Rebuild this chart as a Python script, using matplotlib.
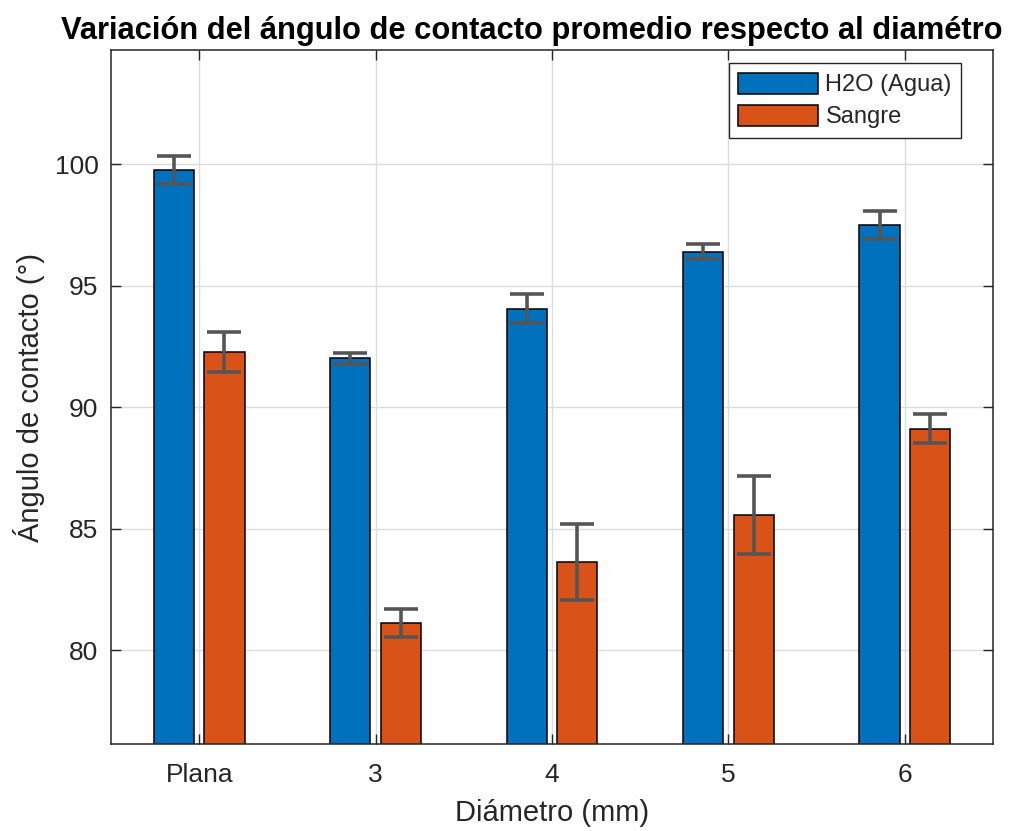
import numpy as np
import matplotlib
matplotlib.use('Agg')
import matplotlib.pyplot as plt

plt.rcParams['font.family'] = ['Liberation Sans', 'DejaVu Sans']

# datos
categorias = ['Plana', '3', '4', '5', '6']
agua = [99.76, 92.01, 94.05, 96.40, 97.49]
agua_err = [0.59, 0.22, 0.59, 0.30, 0.57]
sangre = [92.27, 81.11, 83.62, 85.56, 89.12]
sangre_err = [0.82, 0.57, 1.57, 1.60, 0.60]

AZUL = '#0072BD'
NARANJA = '#D95319'
GRIS = '#262626'

fig = plt.figure(figsize=(10.11, 8.31), dpi=100)
ax = fig.add_axes([0.1098, 0.1047, 0.8724, 0.8351])

x = np.arange(1, len(categorias) + 1)
ancho = 0.228
desp = 0.143

ax.bar(x - desp, agua, ancho, color=AZUL, edgecolor='black', linewidth=1.1,
       label='H2O (Agua)', zorder=2)
ax.bar(x + desp, sangre, ancho, color=NARANJA, edgecolor='black', linewidth=1.1,
       label='Sangre', zorder=2)

for xs, ys, es in [(x - desp, agua, agua_err), (x + desp, sangre, sangre_err)]:
    ax.errorbar(xs, ys, yerr=es, fmt='none', ecolor='#555555', elinewidth=2.6,
                capsize=12, capthick=2.6, zorder=3)

ax.set_xlim(0.5, 5.5)
ax.set_ylim(76.14, 104.7)
ax.set_xticks(x)
ax.set_xticklabels(categorias)
ax.set_yticks([80, 85, 90, 95, 100])

ax.grid(True, color='#dcdcdc', linewidth=1.0, zorder=0)
ax.set_axisbelow(True)
ax.tick_params(direction='in', top=True, right=True, length=7, width=1.0,
               labelsize=19, colors=GRIS)
ax.tick_params(axis='x', pad=14)
ax.tick_params(axis='y', pad=9)
for s in ax.spines.values():
    s.set_color(GRIS)
    s.set_linewidth(1.1)

ax.set_xlabel('Diámetro (mm)', fontsize=21, color=GRIS, labelpad=8)
ax.set_ylabel('Ángulo de contacto (°)', fontsize=21, color=GRIS, labelpad=7)
ax.set_title('Variación del ángulo de contacto promedio respecto al diamétro',
             fontsize=22.2, fontweight='bold', color='black', pad=8, x=0.477)

leg = ax.legend(loc='upper right', fontsize=17, handlelength=3.4, handleheight=1.0,
                fancybox=False, framealpha=1, edgecolor=GRIS,
                bbox_to_anchor=(0.964, 0.981), borderaxespad=0, borderpad=0.4,
                labelspacing=0.35, handletextpad=0.3)
leg.get_frame().set_linewidth(1.0)
for t in leg.get_texts():
    t.set_color(GRIS)

fig.savefig('out.png', dpi=100)
